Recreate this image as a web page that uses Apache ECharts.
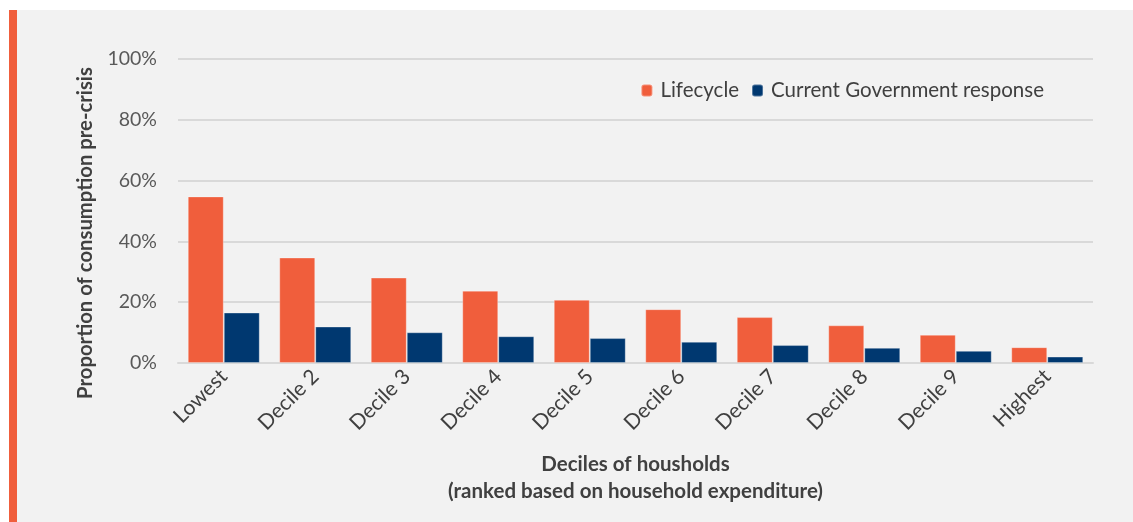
<!DOCTYPE html>
<html>
<head>
<meta charset="utf-8">
<script src="https://cdn.jsdelivr.net/npm/echarts@6/dist/echarts.min.js"></script>
<style>
  html, body { margin: 0; padding: 0; background: #fff; }
  #stripe { position: absolute; left: 9px; top: 10px; width: 8px; height: 512px; background: #f05e3c; }
  #main { position: absolute; left: 17px; top: 10px; width: 1116px; height: 512px; background: #f2f2f2; }
</style>
</head>
<body>
<div id="stripe"></div>
<div id="main"></div>
<script>
var categories = ['Lowest', 'Decile 2', 'Decile 3', 'Decile 4', 'Decile 5', 'Decile 6', 'Decile 7', 'Decile 8', 'Decile 9', 'Highest'];
var lifecycle = [54.8, 34.7, 28.1, 23.8, 20.8, 17.7, 15.1, 12.4, 9.3, 5.2];
var govResponse = [16.6, 12.0, 10.1, 8.8, 8.2, 7.0, 5.9, 5.0, 4.0, 2.1];
var yTicks = [0, 20, 40, 60, 80, 100];

var myChart = echarts.init(document.getElementById('main'));
var fontName = 'Lato';

var option = {
    animation: false,
    textStyle: { fontFamily: fontName },
    legend: {
        right: 84,
        top: 65,
        itemWidth: 11,
        itemHeight: 12,
        itemGap: 12,
        textStyle: { fontFamily: fontName, fontSize: 20.5, color: '#404040', padding: [0, 0, 0, 3] },
        data: ['Lifecycle', 'Current Government response']
    },
    grid: {
        left: 161,
        right: 40,
        top: 49,
        bottom: 159
    },
    xAxis: {
        type: 'category',
        data: categories,
        axisTick: { show: false },
        axisLine: { lineStyle: { color: '#d9d9d9', width: 2 } },
        axisLabel: {
            rotate: 45,
            interval: 0,
            margin: 10,
            fontFamily: fontName,
            fontSize: 21,
            color: '#404040'
        },
        name: 'Deciles of housholds\n(ranked based on household expenditure)',
        nameLocation: 'middle',
        nameGap: 88,
        nameTextStyle: {
            fontFamily: fontName,
            fontSize: 20.5,
            fontWeight: 'bold',
            color: '#404040',
            lineHeight: 27
        }
    },
    yAxis: {
        type: 'value',
        min: yTicks[0],
        max: yTicks[yTicks.length - 1],
        interval: 20,
        axisLine: { show: false },
        axisTick: { show: false },
        splitLine: { lineStyle: { color: '#d9d9d9', width: 2 } },
        axisLabel: {
            margin: 21,
            fontFamily: fontName,
            fontSize: 19.5,
            color: '#595959',
            formatter: '{value}%'
        },
        name: 'Proportion of consumption pre-crisis',
        nameLocation: 'middle',
        nameGap: 83,
        nameTextStyle: {
            fontFamily: fontName,
            fontSize: 20.3,
            fontWeight: 'bold',
            color: '#404040',
            padding: [0, 44, 0, 0]
        }
    },
    series: [{
        name: 'Lifecycle',
        type: 'bar',
        data: lifecycle,
        barWidth: 36,
        barGap: '0%',
        itemStyle: { color: '#f05e3c', borderColor: 'rgba(255,255,255,0.3)', borderWidth: 1 }
    }, {
        name: 'Current Government response',
        type: 'bar',
        data: govResponse,
        barWidth: 36,
        itemStyle: { color: '#003870', borderColor: 'rgba(255,255,255,0.3)', borderWidth: 1 }
    }]
};

myChart.setOption(option);
window.onresize = myChart.resize;
</script>
</body>
</html>
